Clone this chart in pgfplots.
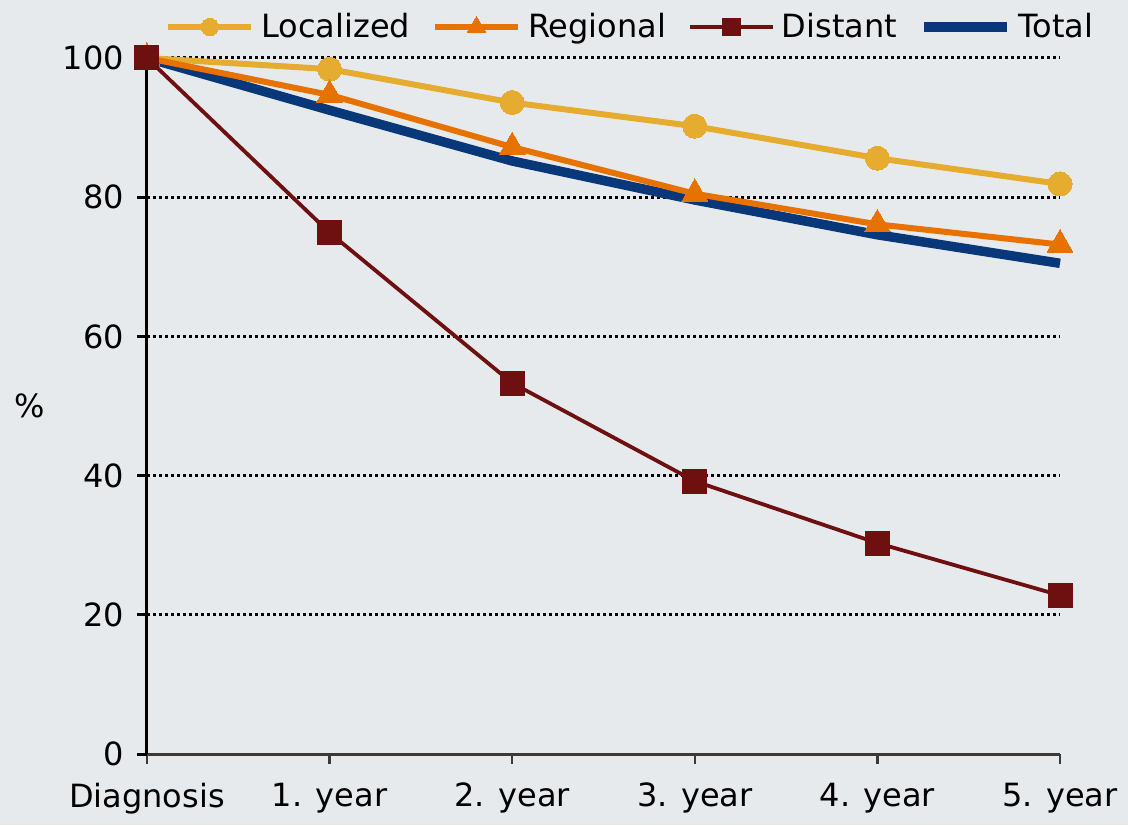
\documentclass[border=0pt]{standalone}
\usepackage{pgfplots}
\pgfplotsset{compat=1.18}
\usepackage{fontspec}
\setmainfont{DejaVu Sans}

\definecolor{bgcol}{HTML}{E6EAED}
\definecolor{loccol}{HTML}{E6AC30}
\definecolor{regcol}{HTML}{E87200}
\definecolor{discol}{HTML}{6E1010}
\definecolor{totcol}{HTML}{08387A}
\definecolor{axgray}{HTML}{3A3A3A}

\newcommand{\lblfont}{\fontsize{16pt}{19pt}\selectfont}

\begin{document}
\begin{tikzpicture}
\fill[bgcol] (-73.5pt,-35.5pt) rectangle (490.5pt,377pt);
\begin{axis}[
  scale only axis,
  width=456.5pt, height=348pt,
  xmin=0, xmax=5, ymin=0, ymax=100,
  enlargelimits=false,
  clip=false,
  axis x line*=bottom,
  axis y line*=left,
  x axis line style={axgray, line width=1.5pt, -},
  y axis line style={black, line width=1.5pt, -},
  tick align=outside,
  major tick length=5pt,
  xtick={0,1,2,3,4,5},
  xticklabels={Diagnosis,1. year,2. year,3. year,4. year,5. year},
  ytick={0,20,40,60,80,100},
  xtick style={axgray, line width=1.25pt},
  ytick style={black, line width=1.5pt},
  ymajorgrids,
  grid style={black, line width=1.5pt, dash pattern=on 1.5pt off 1.5pt},
  /pgf/number format/assume math mode=true,
  font=\lblfont,
  tick label style={font=\lblfont},
  xticklabel style={yshift=-6pt},
  yticklabel style={xshift=-3pt},
  ylabel={\%},
  ylabel style={at={(axis description cs:-0.128,0.5)}, rotate=-90, anchor=center, font=\lblfont},
  legend columns=4,
  legend style={
    at={(axis description cs:0,1)}, anchor=west,
    xshift=9pt, yshift=15.5pt,
    draw=none, fill=none, inner sep=0pt,
    font=\lblfont,
    nodes={inner sep=0pt},
    /tikz/every odd column/.append style={column sep=3.5pt},
    /tikz/every even column/.append style={column sep=11pt},
  },
  legend image code/.code={
    \draw[mark repeat=2, mark phase=2, #1, /tikz/every mark/.append style={scale=0.72}]
      plot coordinates {(0pt,0pt) (20.75pt,0pt) (41.5pt,0pt)};
  },
]
% Total survival: plain thick line, drawn first so the other series sit above it
\addplot[totcol, line width=4.75pt, forget plot] coordinates {
  (0,100) (1,92.5) (2,85.2) (3,79.6) (4,74.6) (5,70.5)
};
\addplot[loccol, line width=3pt, mark=*, mark size=6pt,
  mark options={fill=loccol, draw=loccol, line width=0pt}] coordinates {
  (0,100) (1,98.4) (2,93.6) (3,90.2) (4,85.6) (5,81.9)
};
\addlegendentry{Localized}
\addplot[regcol, line width=3pt, mark=triangle*, mark size=7.5pt,
  mark options={fill=regcol, draw=regcol, line width=0pt}] coordinates {
  (0,100) (1,94.7) (2,87.2) (3,80.5) (4,76.1) (5,73.2)
};
\addlegendentry{Regional}
\addplot[discol, line width=1.9pt, mark=square*, mark size=6pt,
  mark options={fill=discol, draw=discol, line width=0pt}] coordinates {
  (0,100) (1,74.9) (2,53.3) (3,39.2) (4,30.3) (5,22.8)
};
\addlegendentry{Distant}
\addlegendimage{totcol, line width=4.75pt}
\addlegendentry{Total}
\end{axis}
\pgfresetboundingbox
\path (-73.5pt,-35.5pt) rectangle (490.5pt,377pt);
\end{tikzpicture}
\end{document}
